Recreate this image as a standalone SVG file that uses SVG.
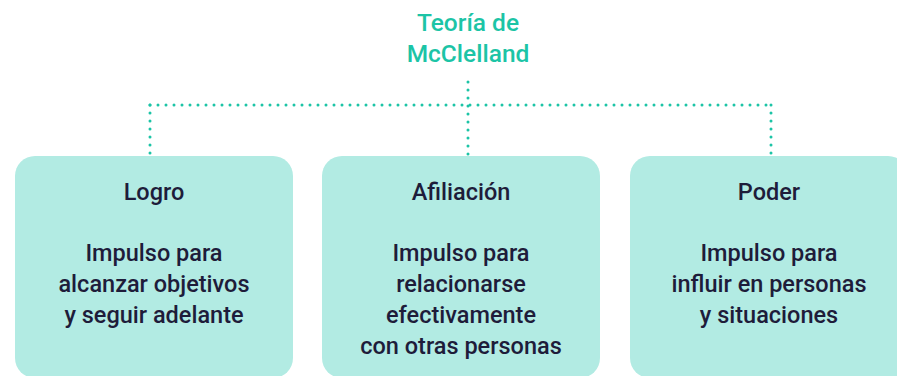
<svg xmlns="http://www.w3.org/2000/svg" width="897" height="376" viewBox="0 0 897 376">
<style>
.title{font-family:Roboto,"Liberation Sans",sans-serif;font-size:24.5px;font-weight:500;fill:#1CC4A6;text-anchor:middle}
.box{fill:#B2EBE3}
.t{font-family:Roboto,"Liberation Sans",sans-serif;font-size:23.5px;font-weight:500;fill:#1E1C3A;text-anchor:middle}
.dot{fill:none;stroke:#1CC4A6;stroke-width:3;stroke-linecap:round;stroke-dasharray:0 8}
</style>
<rect width="897" height="376" fill="#fff"/>
<g id="title">
<text class="title" x="468" y="31">Teoría de</text>
<text class="title" x="468" y="62">McClelland</text>
</g>
<g id="connectors">
<path class="dot" d="M468 82 V156"/>
<path class="dot" d="M150 105 H771"/>
<path class="dot" d="M150 105 V156"/>
<path class="dot" d="M771 105 V156"/>
</g>
<g id="logro">
<rect class="box" x="15" y="156" width="278" height="222" rx="20"/>
<text class="t" x="154" y="200">Logro</text>
<text class="t" x="154" y="261">Impulso para</text>
<text class="t" x="154" y="292">alcanzar objetivos</text>
<text class="t" x="154" y="323">y seguir adelante</text>
</g>
<g id="afiliacion">
<rect class="box" x="322" y="156" width="278" height="222" rx="20"/>
<text class="t" x="461" y="200">Afiliación</text>
<text class="t" x="461" y="261">Impulso para</text>
<text class="t" x="461" y="292">relacionarse</text>
<text class="t" x="461" y="323">efectivamente</text>
<text class="t" x="461" y="354">con otras personas</text>
</g>
<g id="poder">
<rect class="box" x="630" y="156" width="278" height="222" rx="20"/>
<text class="t" x="769" y="200">Poder</text>
<text class="t" x="769" y="261">Impulso para</text>
<text class="t" x="769" y="292">influir en personas</text>
<text class="t" x="769" y="323">y situaciones</text>
</g>
</svg>
